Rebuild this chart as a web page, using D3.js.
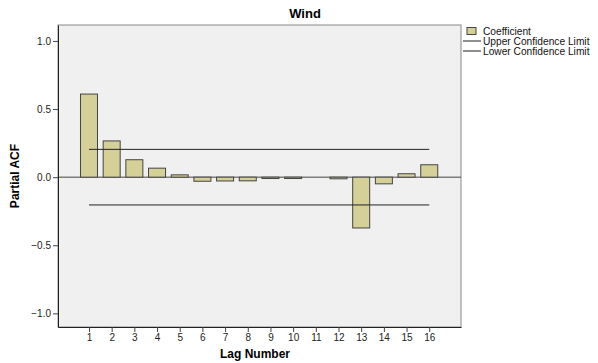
<!DOCTYPE html>
<html><head><meta charset="utf-8">
<script src="https://cdn.jsdelivr.net/npm/d3@7"></script>
<style>body{margin:0;background:#fff;} svg{display:block;font-family:"Liberation Sans",Arial,sans-serif;}</style>
</head><body><svg id="c" width="598" height="363"></svg>
<script>
const lags = [1,2,3,4,5,6,7,8,9,10,11,12,13,14,15,16];
const pacf = [0.61,0.266,0.128,0.066,0.017,-0.03,-0.028,-0.027,-0.01,-0.01,0.0,-0.012,-0.373,-0.049,0.025,0.091];
const upperLimit = [0.204,0.204];
const lowerLimit = [-0.204,-0.204];
const yTicks = [-1.0,-0.5,0.0,0.5,1.0];
const legendItems = ["Coefficient","Upper Confidence Limit","Lower Confidence Limit"];

const svg = d3.select("#c");
const L=58,R=461,T=25,B=327;
const x = d3.scaleLinear().domain([-0.366,17.4]).range([L,R]);
const y = d3.scaleLinear().domain([1.117,-1.1]).range([T,B]);
const bw = 17;

svg.append("rect").attr("x",L).attr("y",T).attr("width",R-L).attr("height",B-T).attr("fill","#f0f0f0").attr("stroke","#888").attr("stroke-width",1);

svg.append("line").attr("x1",L).attr("x2",R).attr("y1",y(0)).attr("y2",y(0)).attr("stroke","#444").attr("stroke-width",1);

svg.append("g").selectAll("rect").data(lags.filter((d,i)=>pacf[i]!==0)).join("rect")
  .attr("x",d=>x(d)-bw/2).attr("width",bw)
  .attr("y",d=>y(Math.max(0,pacf[lags.indexOf(d)])))
  .attr("height",d=>Math.abs(y(pacf[lags.indexOf(d)])-y(0)))
  .attr("fill","#d5cf98").attr("stroke","#444").attr("stroke-width",1);

[upperLimit,lowerLimit].forEach(lim=>{
  svg.append("line").attr("x1",x(lags[0])).attr("x2",x(lags[lags.length-1]))
    .attr("y1",y(lim[0])).attr("y2",y(lim[1])).attr("stroke","#222").attr("stroke-width",1);
});

const yAx = svg.append("g").attr("transform",`translate(${L},0)`)
  .call(d3.axisLeft(y).tickValues(yTicks).tickFormat(d3.format(".1f")).tickSize(5).tickSizeOuter(0).tickPadding(2));
const xAx = svg.append("g").attr("transform",`translate(0,${B})`)
  .call(d3.axisBottom(x).tickValues(lags).tickFormat(d3.format("d")).tickSize(5).tickSizeOuter(0).tickPadding(2));
[yAx,xAx].forEach(g=>{
  g.select(".domain").attr("stroke","#222");
  g.selectAll(".tick line").attr("stroke","#444");
  g.selectAll(".tick text").attr("font-size","10px").attr("fill","#222").attr("font-family","Liberation Sans, Arial, sans-serif");
});

svg.append("text").attr("x",305).attr("y",18).attr("text-anchor","middle")
  .attr("font-size","13px").attr("font-weight","bold").text("Wind");
svg.append("text").attr("x",255).attr("y",358).attr("text-anchor","middle")
  .attr("font-size","12px").attr("font-weight","bold").text("Lag Number");
svg.append("text").attr("transform","translate(19,176) rotate(-90)").attr("text-anchor","middle")
  .attr("font-size","12px").attr("font-weight","bold").text("Partial ACF");

const lg = svg.append("g");
lg.append("rect").attr("x",467).attr("y",27.5).attr("width",9).attr("height",7).attr("fill","#d5cf98").attr("stroke","#444");
[41,51].forEach(yy=>lg.append("line").attr("x1",463).attr("x2",481).attr("y1",yy).attr("y2",yy).attr("stroke","#444").attr("stroke-width",1.2));
legendItems.forEach((t,i)=>lg.append("text").attr("x",483).attr("y",35+i*10).attr("font-size","10.2px").attr("fill","#111").text(t));
</script></body></html>
